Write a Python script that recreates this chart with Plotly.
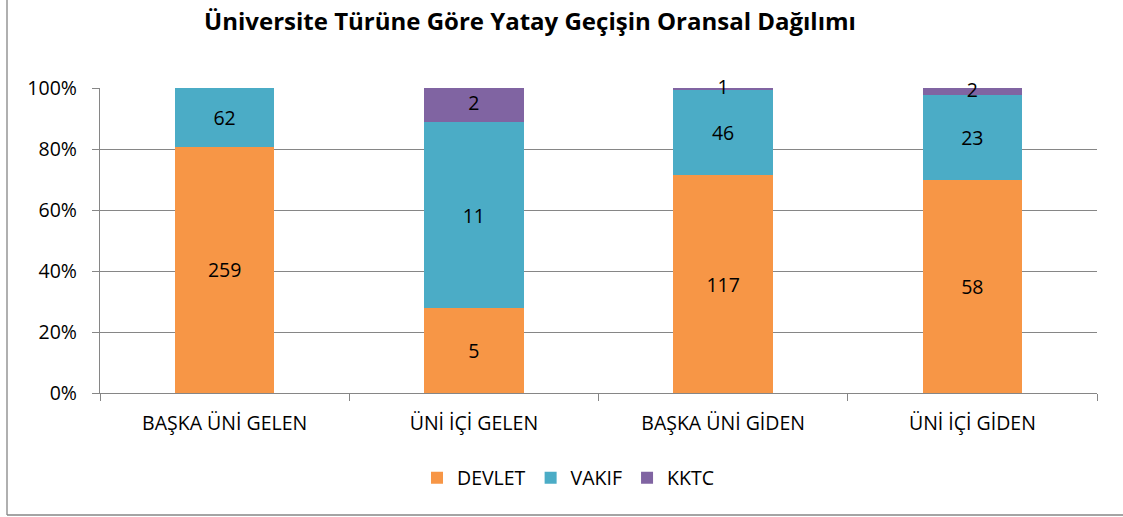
import plotly.graph_objects as go

categories = ["BAŞKA ÜNİ GELEN", "ÜNİ İÇİ GELEN", "BAŞKA ÜNİ GİDEN", "ÜNİ İÇİ GİDEN"]
devlet = [259, 5, 117, 58]
vakif = [62, 11, 46, 23]
kktc = [0, 2, 1, 2]
series_names = ["DEVLET", "VAKIF", "KKTC"]
colors = ["#F79646", "#4BACC6", "#8064A2"]

FONT = "'Open Sans', sans-serif"
FS = 19.5

fig = go.Figure()
for name, vals, col in zip(series_names, [devlet, vakif, kktc], colors):
    is_small = name == "KKTC"
    fig.add_trace(go.Bar(
        name=name,
        x=categories,
        y=vals,
        marker=dict(color=col, line=dict(width=0)),
        text=None if is_small else [str(v) if v else "" for v in vals],
        textposition="inside",
        insidetextanchor="middle",
        textangle=0,
        constraintext="none",
        cliponaxis=False,
        textfont=dict(family=FONT, size=FS, color="#000000"),
        hoverinfo="skip",
    ))

# labels for the thin KKTC segments, centred on each segment
totals = [d + v + k for d, v, k in zip(devlet, vakif, kktc)]
kktc_mid = [100.0 * (d + v + k / 2) / t for d, v, k, t in zip(devlet, vakif, kktc, totals)]
fig.add_trace(go.Scatter(
    x=[c for c, k in zip(categories, kktc) if k],
    y=[m for m, k in zip(kktc_mid, kktc) if k],
    text=[str(k) for k in kktc if k],
    mode="text",
    textposition="middle center",
    textfont=dict(family=FONT, size=FS, color="#000000"),
    showlegend=False,
    hoverinfo="skip",
    cliponaxis=False,
))

W, H = 1123, 517
L, R, T, B = 100, 26, 88, 124
pw = W - L - R
ph = H - T - B

fig.update_layout(
    barmode="stack",
    barnorm="percent",
    bargap=0.6,
    width=W, height=H,
    margin=dict(l=L, r=R, t=T, b=B, pad=0),
    paper_bgcolor="white",
    plot_bgcolor="white",
    font=dict(family=FONT, size=FS, color="#000000"),
    title=dict(
        text="<b>Üniversite Türüne Göre Yatay Geçişin Oransal Dağılımı</b>",
        x=530 / W, xanchor="center",
        y=1 - 22 / H, yanchor="middle",
        font=dict(family=FONT, size=24, color="#000000"),
    ),
    legend=dict(
        orientation="h",
        xref="container", yref="container",
        x=568 / W, xanchor="center",
        y=1 - 478 / H, yanchor="middle",
        font=dict(family=FONT, size=FS, color="#000000"),
        traceorder="normal",
        itemwidth=30,
    ),
    showlegend=True,
)

fig.update_yaxes(
    range=[0, 100],
    tickvals=[0, 20, 40, 60, 80, 100],
    ticktext=["0%", "20%", "40%", "60%", "80%", "100%"],
    showgrid=True, gridcolor="#868686", gridwidth=1.3,
    showline=True, linecolor="#868686", linewidth=1.3,
    ticks="outside", ticklen=7, tickcolor="#868686", tickwidth=1.3,
    ticklabelstandoff=11,
    tickfont=dict(family=FONT, size=FS, color="#000000"),
    zeroline=False,
    fixedrange=True,
)
fig.update_xaxes(
    type="category",
    showline=True, linecolor="#868686", linewidth=1.3,
    ticks="outside", ticklen=7, tickcolor="#868686", tickwidth=1.3,
    tickson="boundaries",
    ticklabelstandoff=12,
    tickfont=dict(family=FONT, size=FS, color="#000000"),
    showgrid=False,
    fixedrange=True,
)

# chart-area border (left and bottom edges visible in the reference)
x_left = (7 - L) / pw
y_bottom = -(515 - (T + ph)) / ph
y_top = 1 + (T + 5) / ph
fig.add_shape(type="line", xref="paper", yref="paper",
              x0=x_left, x1=x_left, y0=y_bottom, y1=y_top,
              line=dict(color="#868686", width=1.3))
fig.add_shape(type="line", xref="paper", yref="paper",
              x0=x_left, x1=1 + (R + 5) / pw, y0=y_bottom, y1=y_bottom,
              line=dict(color="#868686", width=1.3))

fig.write_html("out.html", config={"displayModeBar": False},
               post_script="document.body.style.margin='0px';")
